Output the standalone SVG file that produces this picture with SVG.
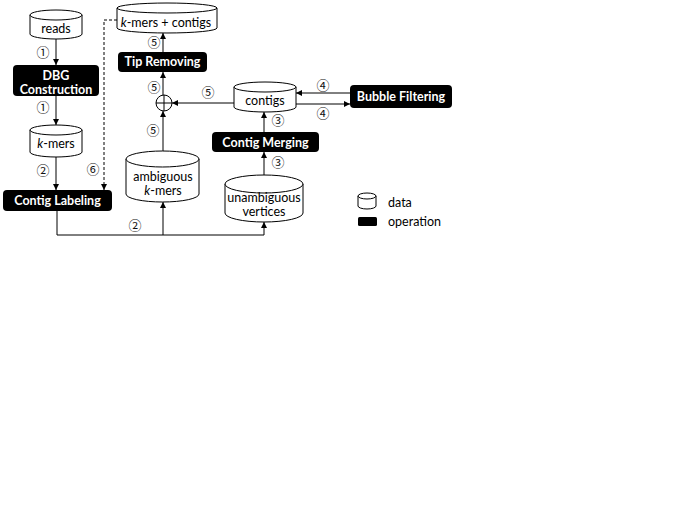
<svg xmlns="http://www.w3.org/2000/svg" width="675" height="506" viewBox="0 0 675 506">
<style>
.cyl{fill:#fff;stroke:#000;stroke-width:1}
.op{fill:#000}
.t{font-family:Lato,"Open Sans","Liberation Sans",sans-serif;font-size:12.5px;fill:#000;text-anchor:middle}
.tw{font-family:Lato,"Open Sans","Liberation Sans",sans-serif;font-size:12.5px;font-weight:bold;fill:#fff;text-anchor:middle}
.tl{font-family:Lato,"Open Sans","Liberation Sans",sans-serif;font-size:12.5px;fill:#000}
.n{font-family:"Noto Sans CJK JP","DejaVu Sans",sans-serif;font-size:13px;fill:#111;text-anchor:middle}
.c{fill:none;stroke:#000;stroke-width:1}
.d{fill:none;stroke:#000;stroke-width:1;stroke-dasharray:3,2}
</style>
<defs>
<marker id="ah" viewBox="0 0 10 10" refX="10" refY="5" markerWidth="6" markerHeight="6" markerUnits="userSpaceOnUse" orient="auto">
<path d="M0 0 L10 5 L0 10 Z" fill="#000"/>
</marker>
</defs>
<rect width="675" height="506" fill="#fff"/>

<g id="connectors">
<line class="c" x1="56" y1="39" x2="56" y2="65" marker-end="url(#ah)"/>
<line class="c" x1="56" y1="96" x2="56" y2="125" marker-end="url(#ah)"/>
<line class="c" x1="56" y1="157" x2="56" y2="190" marker-end="url(#ah)"/>
<polyline class="d" points="117,20 104,20 104,190" marker-end="url(#ah)"/>
<polyline class="c" points="57,211 57,235 264,235 264,222" marker-end="url(#ah)"/>
<line class="c" x1="163" y1="235" x2="163" y2="202" marker-end="url(#ah)"/>
<line class="c" x1="163" y1="151" x2="163" y2="111" marker-end="url(#ah)"/>
<line class="c" x1="234" y1="103" x2="172" y2="103" marker-end="url(#ah)"/>
<line class="c" x1="163" y1="95" x2="163" y2="72" marker-end="url(#ah)"/>
<line class="c" x1="163" y1="52" x2="163" y2="33" marker-end="url(#ah)"/>
<line class="c" x1="264" y1="175" x2="264" y2="152" marker-end="url(#ah)"/>
<line class="c" x1="264" y1="132" x2="264" y2="112" marker-end="url(#ah)"/>
<line class="c" x1="350" y1="93" x2="296" y2="93" marker-end="url(#ah)"/>
<line class="c" x1="296" y1="104" x2="350" y2="104" marker-end="url(#ah)"/>
<text class="n" x="43" y="56.5">①</text>
<text class="n" x="43" y="111.5">①</text>
<text class="n" x="43" y="174.5">②</text>
<text class="n" x="93" y="173.5">⑥</text>
<text class="n" x="154" y="46.5">⑤</text>
<text class="n" x="154" y="91.5">⑤</text>
<text class="n" x="208" y="96.5">⑤</text>
<text class="n" x="153" y="134.5">⑤</text>
<text class="n" x="135" y="229.5">②</text>
<text class="n" x="278" y="124.5">③</text>
<text class="n" x="278" y="166.5">③</text>
<text class="n" x="323" y="89.5">④</text>
<text class="n" x="323" y="117.5">④</text>
</g>

<g id="reads">
<path class="cyl" d="M30 15 L30 34 A26 5 0 0 0 82 34 L82 15 Z"/>
<ellipse class="cyl" cx="56" cy="15" rx="26" ry="5"/>
<text class="t" x="56" y="33">reads</text>
</g>

<g id="dbg-construction">
<rect class="op" x="13" y="65" width="86" height="31" rx="4"/>
<text class="tw" x="56" y="80">DBG</text>
<text class="tw" x="56" y="94">Construction</text>
</g>

<g id="kmers">
<path class="cyl" d="M30 130 L30 152 A26 5 0 0 0 82 152 L82 130 Z"/>
<ellipse class="cyl" cx="56" cy="130" rx="26" ry="5"/>
<text class="t" x="56" y="148"><tspan font-style="italic">k</tspan>-mers</text>
</g>

<g id="contig-labeling">
<rect class="op" x="3" y="190" width="109" height="21" rx="4"/>
<text class="tw" x="57.5" y="205">Contig Labeling</text>
</g>

<g id="kmers-contigs">
<path class="cyl" d="M117 8 L117 28 A50 5 0 0 0 217 28 L217 8 Z"/>
<ellipse class="cyl" cx="167" cy="8" rx="50" ry="5"/>
<text class="t" x="166" y="27"><tspan font-style="italic">k</tspan>-mers + contigs</text>
</g>

<g id="tip-removing">
<rect class="op" x="118" y="52" width="89" height="20" rx="4"/>
<text class="tw" x="162.5" y="66">Tip Removing</text>
</g>

<g id="merge">
<circle cx="164" cy="103" r="8" fill="#fff" stroke="#000" stroke-width="1"/>
<line class="c" x1="156" y1="103" x2="172" y2="103"/>
<line class="c" x1="164" y1="95" x2="164" y2="111"/>
</g>

<g id="ambiguous-kmers">
<path class="cyl" d="M126 159 L126 194 A36.5 8 0 0 0 199 194 L199 159 Z"/>
<ellipse class="cyl" cx="162.5" cy="159" rx="36.5" ry="8"/>
<text class="t" x="163" y="181">ambiguous</text>
<text class="t" x="163" y="195"><tspan font-style="italic">k</tspan>-mers</text>
</g>

<g id="contigs">
<path class="cyl" d="M234 87 L234 107 A31 5 0 0 0 296 107 L296 87 Z"/>
<ellipse class="cyl" cx="265" cy="87" rx="31" ry="5"/>
<text class="t" x="265" y="105">contigs</text>
</g>

<g id="bubble-filtering">
<rect class="op" x="350" y="85" width="102" height="23" rx="4"/>
<text class="tw" x="401" y="101">Bubble Filtering</text>
</g>

<g id="contig-merging">
<rect class="op" x="212" y="132" width="107" height="20" rx="4"/>
<text class="tw" x="265.5" y="146.5">Contig Merging</text>
</g>

<g id="unambiguous-vertices">
<path class="cyl" d="M225 184 L225 213 A39 9 0 0 0 303 213 L303 184 Z"/>
<ellipse class="cyl" cx="264" cy="184" rx="39" ry="9"/>
<text class="t" x="264" y="202">unambiguous</text>
<text class="t" x="264" y="216">vertices</text>
</g>

<g id="legend">
<path class="cyl" d="M358 196 L358 206 A9 3 0 0 0 376 206 L376 196 Z"/>
<ellipse class="cyl" cx="367" cy="196" rx="9" ry="3"/>
<text class="tl" x="388" y="207">data</text>
<rect class="op" x="358" y="217" width="19" height="9" rx="1.5"/>
<text class="tl" x="388" y="226">operation</text>
</g>
</svg>
